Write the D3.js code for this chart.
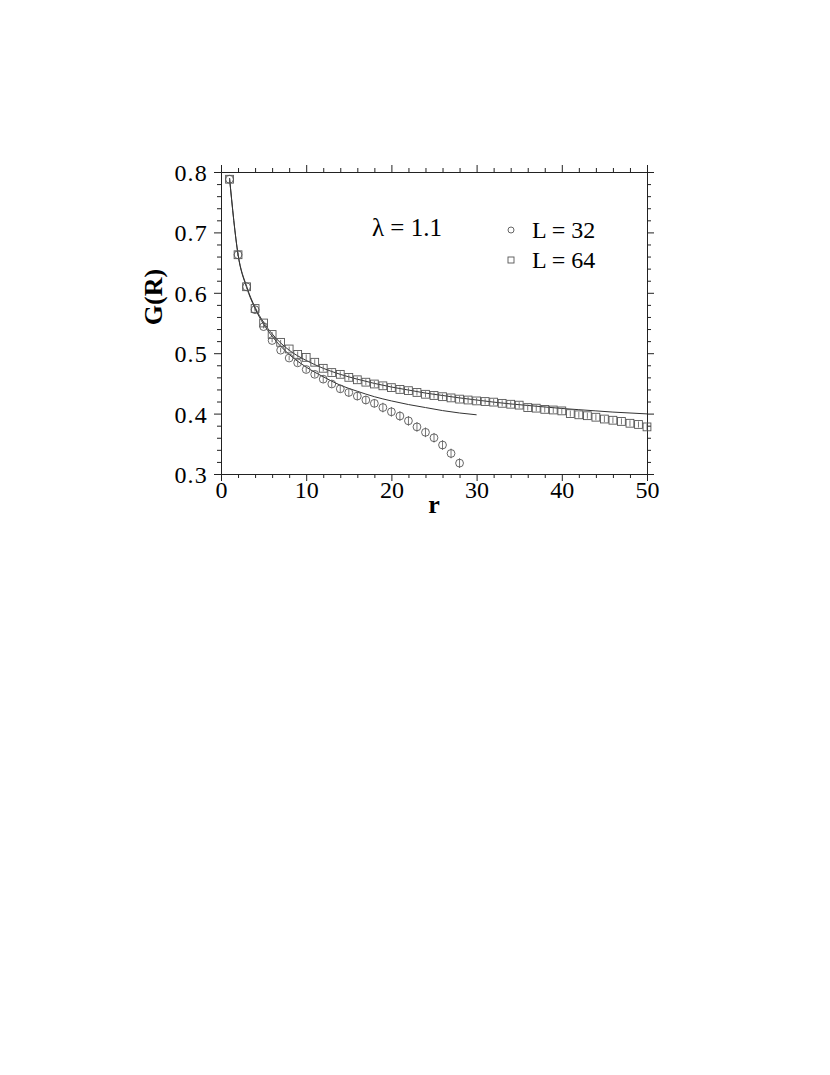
<!DOCTYPE html>
<html><head><meta charset="utf-8">
<script src="https://cdn.jsdelivr.net/npm/d3@7"></script>
<style>body{margin:0;background:#fff}svg{display:block}text{font-family:"Liberation Serif","DejaVu Serif",serif;fill:#000}</style>
</head><body><svg id="c" width="830" height="1075"></svg>
<script>
// L = 32 data (circles)
const rL32 = [1,2,3,4,5,6,7,8,9,10,11,12,13,14,15,16,17,18,19,20,21,22,23,24,25,26,27,28];
const gL32 = [0.788,0.663,0.610,0.572,0.544,0.521,0.505,0.492,0.484,0.473,0.465,0.457,0.449,0.441,0.435,0.429,0.4225,0.417,0.410,0.403,0.396,0.388,0.378,0.369,0.360,0.348,0.334,0.318];
const eL32 = [0.002,0.002,0.002,0.003,0.003,0.003,0.004,0.004,0.005,0.005,0.005,0.006,0.006,0.006,0.007,0.007,0.007,0.007,0.008,0.008,0.008,0.008,0.008,0.008,0.008,0.008,0.008,0.008];
// L = 64 data (squares)
const rL64 = [1,2,3,4,5,6,7,8,9,10,11,12,13,14,15,16,17,18,19,20,21,22,23,24,25,26,27,28,29,30,31,32,33,34,35,36,37,38,39,40,41,42,43,44,45,46,47,48,49,50];
const gL64 = [0.788,0.663,0.610,0.574,0.550,0.531,0.518,0.507,0.498,0.493,0.485,0.475,0.468,0.465,0.460,0.456,0.452,0.449,0.446,0.443,0.440,0.438,0.435,0.432,0.430,0.428,0.426,0.424,0.4225,0.421,0.420,0.419,0.417,0.4155,0.414,0.410,0.409,0.407,0.406,0.4045,0.400,0.398,0.3965,0.394,0.391,0.389,0.387,0.384,0.382,0.378];
const eL64 = [0.002,0.002,0.002,0.003,0.003,0.004,0.004,0.004,0.005,0.005,0.005,0.005,0.005,0.005,0.005,0.005,0.005,0.005,0.005,0.005,0.005,0.005,0.005,0.005,0.005,0.005,0.005,0.005,0.005,0.005,0.005,0.005,0.005,0.005,0.005,0.005,0.005,0.005,0.005,0.005,0.005,0.005,0.005,0.005,0.005,0.005,0.005,0.005,0.005,0.005];
// fit curves
const fitR32 = [1,2,3,4,5,6,8,10,12,14,16,18,20,22,24,26,28,30];
const fitG32 = [0.790,0.663,0.609,0.574,0.548,0.528,0.498,0.477,0.461,0.447,0.437,0.428,0.421,0.415,0.410,0.405,0.401,0.398];
const fitR64 = [1,2,3,4,5,6,8,10,12,14,16,18,20,22,24,26,28,30,32,34,36,38,40,42,44,46,48,50];
const fitG64 = [0.790,0.664,0.611,0.576,0.551,0.532,0.505,0.488,0.475,0.465,0.457,0.450,0.444,0.439,0.434,0.430,0.426,0.4225,0.419,0.416,0.4135,0.411,0.4085,0.4065,0.4045,0.4025,0.401,0.3995];
const xMajor = [0,10,20,30,40,50];
const yMajor = [0.3,0.4,0.5,0.6,0.7,0.8];
const legendLabels = ["L = 32","L = 64"];
const annotation = "λ = 1.1";

const svg = d3.select("#c");
const x = d3.scaleLinear().domain([0,50]).range([221,647]);
const y = d3.scaleLinear().domain([0.3,0.8]).range([474,172]);
const stroke = "#222";

// minor ticks
const xMinor = d3.range(0,50.001,2).filter(v=>Math.round(v)%10!==0);
const yMinor = d3.range(0.3,0.8001,0.02).filter(v=>Math.round(v*100)%10!==0);

function axis(gen, tr, ticks, size, fmt){
  const g = svg.append("g").attr("transform",tr)
    .call(gen.tickValues(ticks).tickSize(size).tickSizeOuter(0).tickFormat(fmt));
  g.select(".domain").attr("stroke",stroke).attr("stroke-width",1);
  g.selectAll(".tick line").attr("stroke",stroke).attr("stroke-width",1);
  return g;
}
const none = ()=>"";
// bottom
const bx = axis(d3.axisBottom(x), `translate(0,${y(0.3)})`, xMajor, 7, d3.format("d"));
bx.selectAll("text").attr("font-size",24).attr("font-family","Liberation Serif").attr("fill","#000").attr("dy",0).attr("y",24);
axis(d3.axisBottom(x), `translate(0,${y(0.3)})`, xMinor, 4, none);
// top
axis(d3.axisTop(x), `translate(0,${y(0.8)})`, xMajor, 7, none);
axis(d3.axisTop(x), `translate(0,${y(0.8)})`, xMinor, 4, none);
// left
const ly = axis(d3.axisLeft(y), `translate(${x(0)},0)`, yMajor, 7, d3.format(".1f"));
ly.selectAll("text").attr("font-size",24).attr("font-family","Liberation Serif").attr("fill","#000")
  .attr("letter-spacing","1.2px").attr("x",-13).attr("dy","0.35em");
axis(d3.axisLeft(y), `translate(${x(0)},0)`, yMinor, 4, none);
// right
axis(d3.axisRight(y), `translate(${x(50)},0)`, yMajor, 7, none);
axis(d3.axisRight(y), `translate(${x(50)},0)`, yMinor, 4, none);

// fit curves
const line = d3.line().x(d=>x(d[0])).y(d=>y(d[1])).curve(d3.curveMonotoneX);
svg.append("path").datum(fitR32.map((r,i)=>[r,fitG32[i]])).attr("d",line)
  .attr("fill","none").attr("stroke","#333").attr("stroke-width",1);
svg.append("path").datum(fitR64.map((r,i)=>[r,fitG64[i]])).attr("d",line)
  .attr("fill","none").attr("stroke","#333").attr("stroke-width",1);

const mcol = "#555";
// squares L=64
const sq = svg.append("g");
rL64.forEach((r,i)=>{
  const cx=x(r), cy=y(gL64[i]);
  sq.append("line").attr("x1",cx).attr("x2",cx).attr("y1",y(gL64[i]+eL64[i])).attr("y2",y(gL64[i]-eL64[i])).attr("stroke",mcol).attr("stroke-width",0.8);
  sq.append("rect").attr("x",cx-3.9).attr("y",cy-3.9).attr("width",7.8).attr("height",7.8)
    .attr("fill","none").attr("stroke",mcol).attr("stroke-width",0.9);
});
// circles L=32
const ci = svg.append("g");
rL32.forEach((r,i)=>{
  const cx=x(r), cy=y(gL32[i]);
  ci.append("line").attr("x1",cx).attr("x2",cx).attr("y1",y(gL32[i]+eL32[i])).attr("y2",y(gL32[i]-eL32[i])).attr("stroke",mcol).attr("stroke-width",0.8);
  ci.append("circle").attr("cx",cx).attr("cy",cy).attr("r",3.9)
    .attr("fill","none").attr("stroke",mcol).attr("stroke-width",0.9);
});

// axis titles
svg.append("text").attr("x",x(25)).attr("y",513).attr("text-anchor","middle")
  .attr("font-size",26).attr("font-weight","bold").text("r");
svg.append("text").attr("transform",`translate(162,297) rotate(-90)`)
  .attr("text-anchor","middle").attr("font-size",26).attr("font-weight","bold").text("G(R)");

// annotation and legend
svg.append("text").attr("x",372).attr("y",236).attr("font-size",25).text(annotation);
svg.append("circle").attr("cx",511).attr("cy",230).attr("r",3).attr("fill","none").attr("stroke",mcol).attr("stroke-width",0.9);
svg.append("rect").attr("x",508).attr("y",257).attr("width",6).attr("height",6).attr("fill","none").attr("stroke",mcol).attr("stroke-width",0.9);
svg.append("text").attr("x",532).attr("y",238).attr("font-size",24).text(legendLabels[0]);
svg.append("text").attr("x",532).attr("y",268).attr("font-size",24).text(legendLabels[1]);
</script></body></html>
